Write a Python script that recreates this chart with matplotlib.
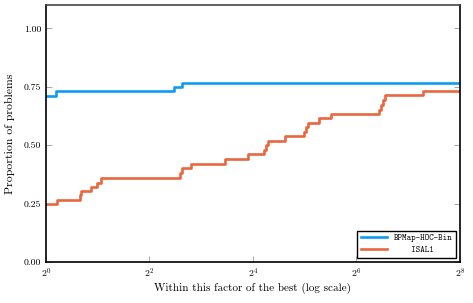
import matplotlib
matplotlib.use("Agg")
from matplotlib import pyplot as plt
from matplotlib.ticker import FixedLocator, FixedFormatter, NullLocator

plt.rcParams["font.family"] = "serif"
plt.rcParams["font.serif"] = ["cmr10"]
plt.rcParams["mathtext.fontset"] = "cm"
plt.rcParams["axes.formatter.use_mathtext"] = True

# performance profile data (ratio to best, proportion of problems solved)
bp_x = [1.0, 1.149, 5.54, 6.23, 256.0]
bp_y = [0.711, 0.730, 0.749, 0.768, 0.768]

isal_x = [1.0, 1.163, 1.570, 1.609, 1.820, 1.972, 2.099, 6.02, 6.23, 6.96,
          11.08, 15.03, 18.64, 18.96, 19.56, 24.42, 31.67, 32.45, 33.59,
          38.58, 45.25, 86.8, 89.3, 91.1, 93.4, 155.4, 256.0]
isal_y = [0.249, 0.266, 0.287, 0.305, 0.322, 0.339, 0.361, 0.383, 0.402, 0.420,
          0.440, 0.461, 0.480, 0.499, 0.517, 0.538, 0.558, 0.578, 0.597,
          0.615, 0.633, 0.652, 0.672, 0.692, 0.713, 0.731, 0.731]

labels = ["BPMap-HOC-Bin", "    ISAL1"]
colors = ["#0e9cf2", "#e8673f"]

xticks = [1, 4, 16, 64, 256]
xticklabels = ["$2^{0}$", "$2^{2}$", "$2^{4}$", "$2^{6}$", "$2^{8}$"]
yticks = [0.0, 0.25, 0.5, 0.75, 1.0]

fig = plt.figure(figsize=(4.73, 3.03), dpi=100)
ax = fig.add_axes([0.097, 0.135, 0.8755, 0.8485])

ax.step(bp_x, bp_y, where="post", color=colors[0], lw=1.9, label=labels[0])
ax.step(isal_x, isal_y, where="post", color=colors[1], lw=1.9, label=labels[1])

ax.set_xscale("log", base=2)
ax.set_xlim(1, 256)
ax.set_ylim(0, 1.1)
ax.xaxis.set_major_locator(FixedLocator(xticks))
ax.xaxis.set_major_formatter(FixedFormatter(xticklabels))
ax.xaxis.set_minor_locator(NullLocator())
ax.set_yticks(yticks)
ax.set_yticklabels(["%.2f" % v for v in yticks])

ax.tick_params(axis="both", direction="in", labelsize=7, length=4,
               color="#999999", width=0.6)
ax.tick_params(axis="y", right=True)
ax.tick_params(axis="x", pad=3)

for s in ax.spines.values():
    s.set_linewidth(1.2)
    s.set_color("black")
ax.spines["top"].set_color("#444444")

ax.set_xlabel("Within this factor of the best (log scale)", fontsize=8, labelpad=2)
ax.set_ylabel("Proportion of problems", fontsize=8.5, labelpad=6)

leg = ax.legend(loc="lower right", prop={"family": "cmtt10", "size": 6.2},
                fancybox=False, edgecolor="black", framealpha=1,
                handlelength=3, borderaxespad=0.5)
leg.get_frame().set_linewidth(1.0)

fig.savefig("out.png", dpi=100)
